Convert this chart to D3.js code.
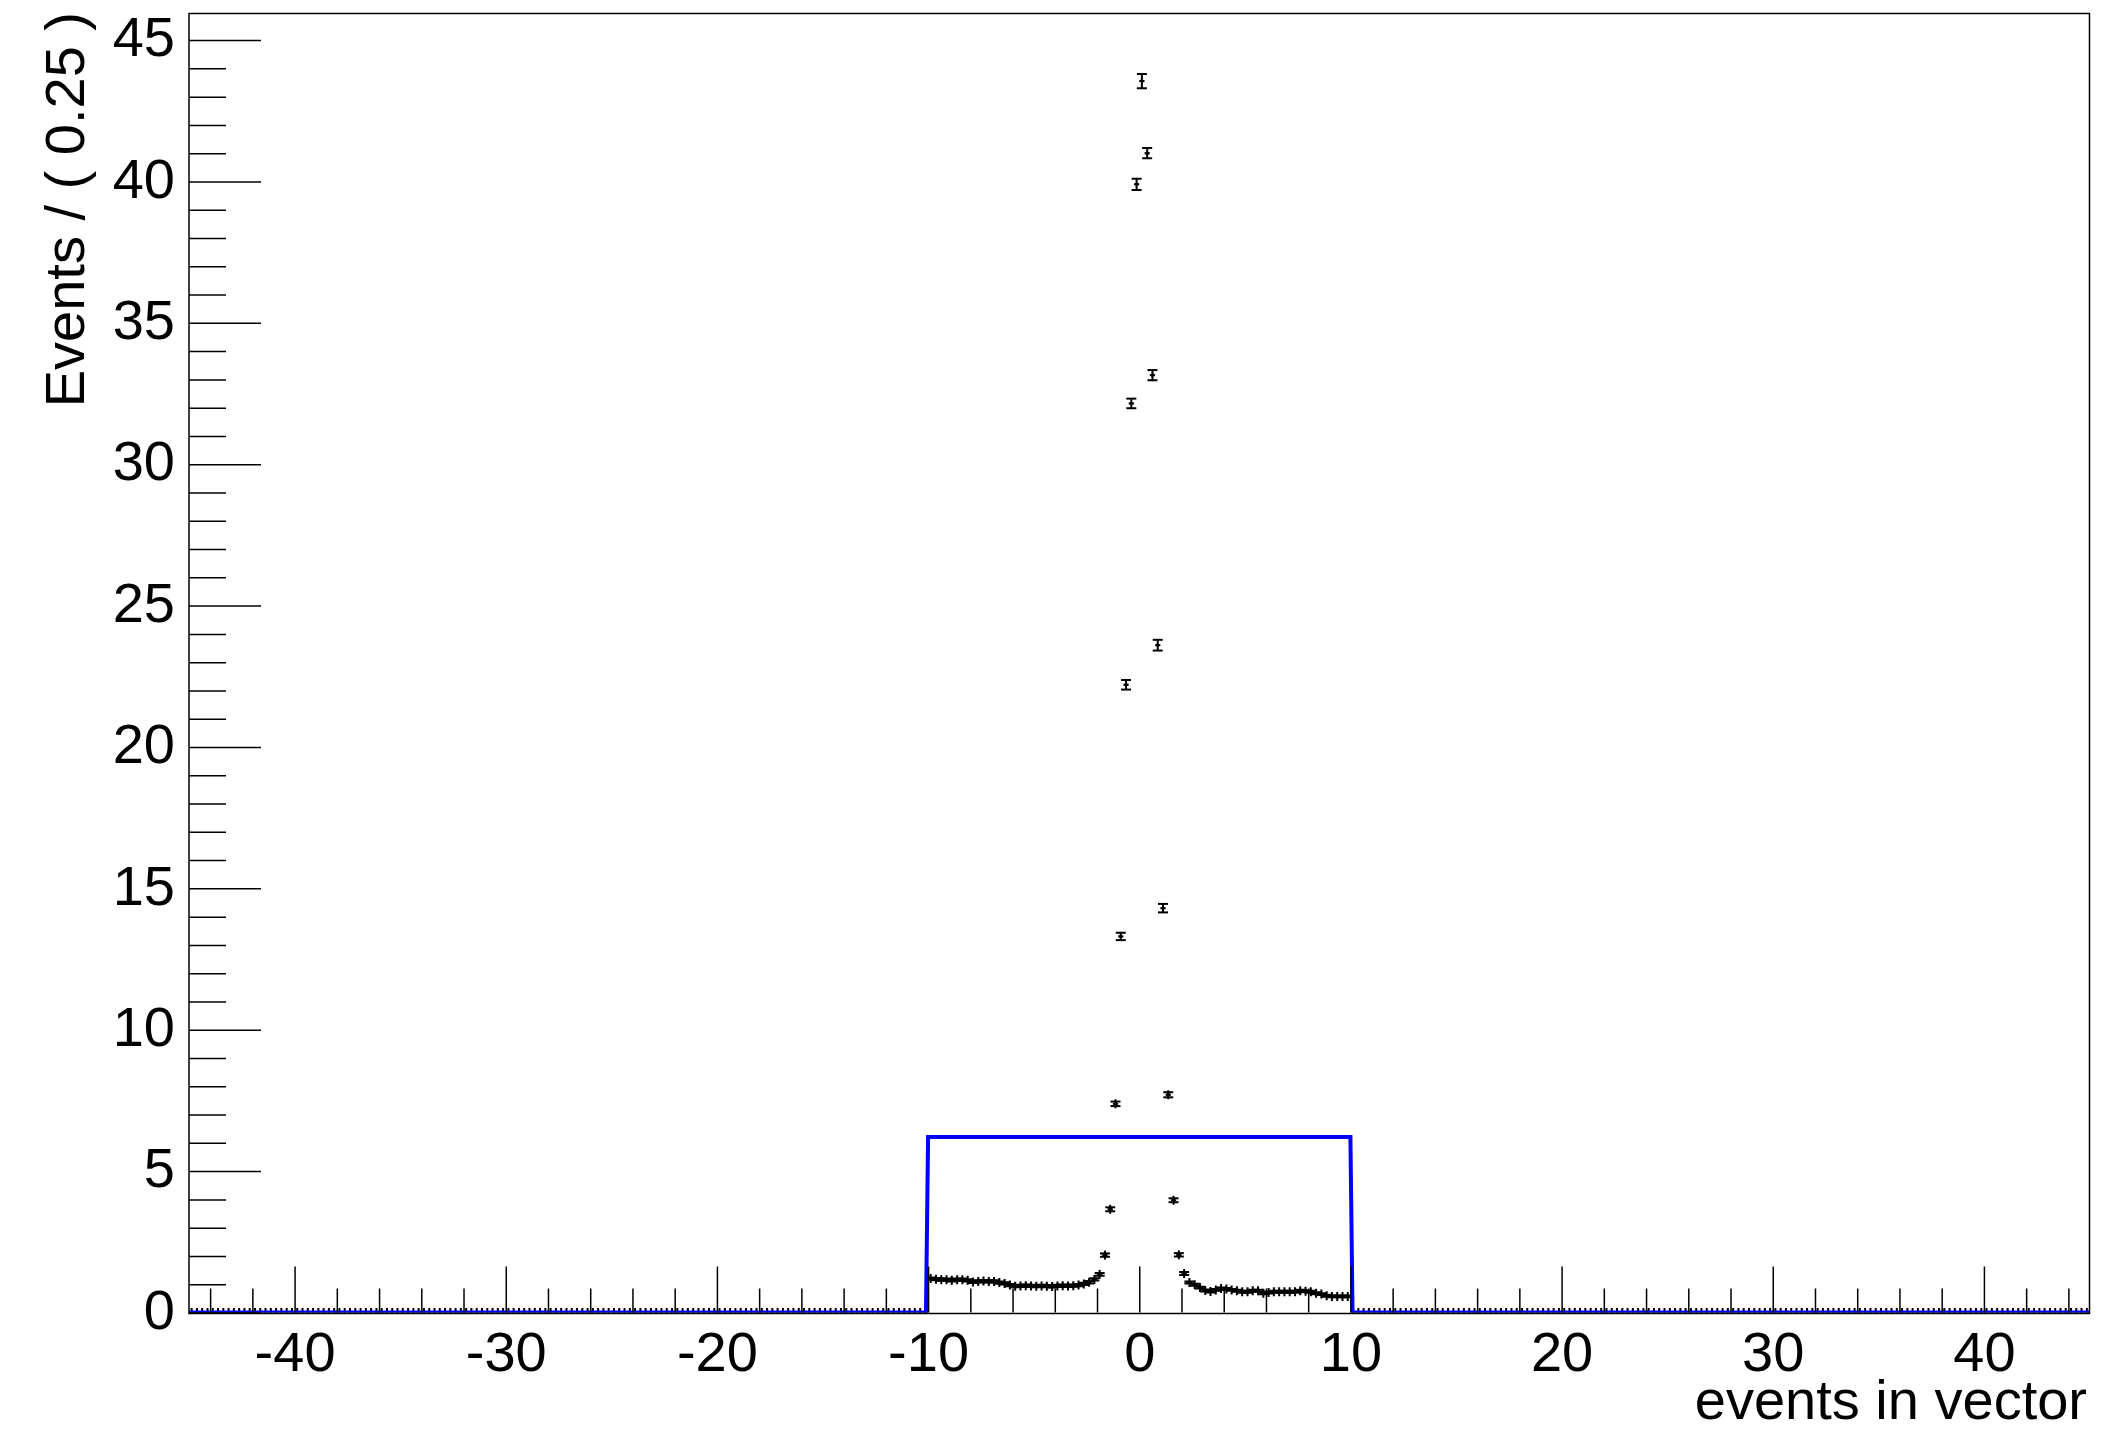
<!DOCTYPE html>
<html><head><meta charset="utf-8">
<script src="https://cdn.jsdelivr.net/npm/d3@7"></script>
<style>body{margin:0;background:#fff} svg{display:block}</style>
</head><body>
<svg id="chart" width="2118" height="1436"></svg>
<script>
// ---------- data ----------
const xDomain = [-45, 45];
const yDomain = [0, 45.94];
const binWidth = 0.25;
const filledStart = -10;   // low edge of first filled bin
const counts = [
  1.20,1.18,1.16,1.16,1.14,1.16,1.16,1.14,1.08,1.10,1.11,1.10,1.10,1.06,1.03,0.97,
  0.93,0.94,0.95,0.94,0.93,0.94,0.93,0.92,0.94,0.95,0.94,0.95,0.97,1.01,1.07,1.17,
  1.35,2.03,3.65,7.38,13.3,22.2,32.15,39.9,43.55,41.0,33.15,23.6,14.3,7.7,3.97,2.04,1.38,
  1.06,0.98,0.88,0.78,0.74,0.80,0.85,0.83,0.80,0.77,0.73,0.73,0.77,0.77,0.68,0.71,
  0.73,0.73,0.73,0.73,0.73,0.77,0.75,0.73,0.68,0.65,0.59,0.57,0.57,0.57,0.57
];
const errors = [
  0.04,0.04,0.04,0.04,0.04,0.04,0.04,0.04,0.04,0.04,0.04,0.04,0.04,0.04,0.04,0.04,
  0.04,0.04,0.04,0.04,0.04,0.04,0.04,0.04,0.04,0.04,0.04,0.04,0.04,0.04,0.04,0.04,
  0.05,0.06,0.07,0.08,0.13,0.17,0.17,0.20,0.25,0.18,0.18,0.19,0.15,0.09,0.07,0.06,0.05,
  0.035,0.035,0.035,0.035,0.035,0.035,0.035,0.035,0.035,0.035,0.035,0.035,0.035,0.035,0.035,0.035,
  0.035,0.035,0.035,0.035,0.035,0.035,0.035,0.035,0.035,0.035,0.035,0.035,0.035,0.035,0.035
];
const xMajorTicks = [-40,-30,-20,-10,0,10,20,30,40];
const yMajorTicks = [0,5,10,15,20,25,30,35,40,45];
const curveX = [-45,-10.1,-10,10,10.1,45];
const curveY = [0,0,6.21,6.21,0,0];
const xTitle = "events in vector";
const yTitle = "Events / ( 0.25 )";

// ---------- layout ----------
const L = 189, R = 2089.5, T = 13.5, B = 1312.5;
const font = "'Liberation Sans', Arial, Helvetica, sans-serif";
const svg = d3.select("#chart");
svg.append("rect").attr("width",2118).attr("height",1436).attr("fill","#fff");

const x = d3.scaleLinear().domain(xDomain).range([L, R]);
const y = d3.scaleLinear().domain(yDomain).range([B, T]);

svg.append("clipPath").attr("id","clip").append("rect")
  .attr("x",L).attr("y",T).attr("width",R-L).attr("height",B-T);

// build point table: filled bins + empty bins
const points = [];
const nBins = Math.round((xDomain[1]-xDomain[0])/binWidth);
for (let i = 0; i < nBins; i++) {
  const lo = xDomain[0] + i*binWidth;
  const c = lo + binWidth/2;
  const k = Math.round((lo - filledStart)/binWidth);
  if (k >= 0 && k < counts.length) points.push({c, v: counts[k], e: errors[k]});
  else points.push({c, v: 0, e: 0});
}

const gData = svg.append("g").attr("clip-path","url(#clip)")
  .attr("stroke","#000").attr("stroke-width",2).attr("fill","none");

const pg = gData.selectAll("g.pt").data(points).join("g").attr("class","pt");
// horizontal bin-width bar
pg.append("line")
  .attr("x1", d => x(d.c - binWidth/2)).attr("x2", d => x(d.c + binWidth/2))
  .attr("y1", d => y(d.v)).attr("y2", d => y(d.v));
// vertical error bar (minimum visible extent of marker)
pg.append("line")
  .attr("x1", d => x(d.c)).attr("x2", d => x(d.c))
  .attr("y1", d => Math.min(y(d.v + d.e), y(d.v) - 4.5))
  .attr("y2", d => Math.max(y(d.v - d.e), y(d.v) + 4.5));
// caps
pg.filter(d => d.v > 0).append("line")
  .attr("x1", d => x(d.c) - 5).attr("x2", d => x(d.c) + 5)
  .attr("y1", d => y(d.v + d.e)).attr("y2", d => y(d.v + d.e));
pg.filter(d => d.v > 0).append("line")
  .attr("x1", d => x(d.c) - 5).attr("x2", d => x(d.c) + 5)
  .attr("y1", d => y(d.v - d.e)).attr("y2", d => y(d.v - d.e));
pg.filter(d => d.v > 0).append("circle")
  .attr("cx", d => x(d.c)).attr("cy", d => y(d.v)).attr("r", 1.8)
  .attr("fill","#000").attr("stroke","none");

// pdf curve
const curve = curveX.map((cx, i) => [cx, curveY[i]]);
svg.append("path").attr("clip-path","url(#clip)")
  .attr("d", d3.line().x(d => x(d[0])).y(d => y(d[1]))(curve))
  .attr("fill","none").attr("stroke","#0000ff").attr("stroke-width",4)
  .attr("stroke-linejoin","miter");

// ---------- axes ----------
function styleAxis(g) {
  g.select(".domain").remove();
  g.selectAll(".tick line").attr("stroke","#000").attr("stroke-width",1.5);
  g.selectAll("text").attr("font-family",font).attr("font-size",56).attr("fill","#000");
}
// x minor
svg.append("g").attr("transform",`translate(0,${B})`)
  .call(d3.axisBottom(x).tickValues(d3.range(-44, 45, 2).filter(v => v % 10 !== 0))
        .tickSize(-24).tickFormat(""))
  .call(styleAxis);
// x major
svg.append("g").attr("transform",`translate(0,${B})`)
  .call(d3.axisBottom(x).tickValues(xMajorTicks).tickSize(-46).tickPadding(19)
        .tickFormat(d => String(d)))
  .call(styleAxis);
// y minor
svg.append("g").attr("transform",`translate(${L},0)`)
  .call(d3.axisLeft(y).tickValues(d3.range(1, 46, 1).filter(v => v % 5 !== 0))
        .tickSize(-37).tickFormat(""))
  .call(styleAxis);
// y major
const yAx = svg.append("g").attr("transform",`translate(${L},0)`)
  .call(d3.axisLeft(y).tickValues(yMajorTicks).tickSize(-72).tickPadding(14)
        .tickFormat(d => String(d)))
  .call(styleAxis);
yAx.selectAll("text").attr("dy","0.28em");

// frame
svg.append("rect").attr("x",L).attr("y",T).attr("width",R-L).attr("height",B+1-T)
  .attr("fill","none").attr("stroke","#000").attr("stroke-width",1.5);

// titles
svg.append("text").attr("x",2087).attr("y",1419).attr("text-anchor","end")
  .attr("font-family",font).attr("font-size",56).attr("fill","#000").text(xTitle);
svg.append("text").attr("transform","translate(84,12) rotate(-90)")
  .attr("text-anchor","end")
  .attr("font-family",font).attr("font-size",56).attr("fill","#000").text(yTitle);
</script>
</body></html>
